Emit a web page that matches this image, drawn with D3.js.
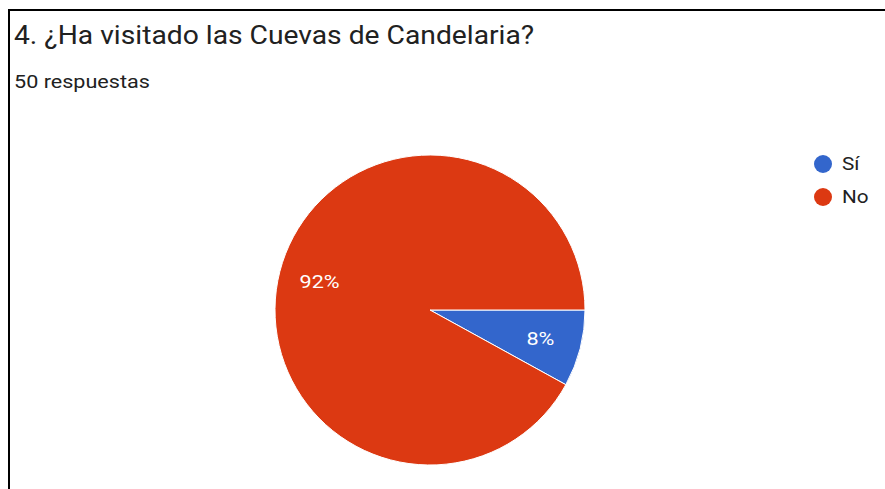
<!DOCTYPE html>
<html><head><meta charset="utf-8">
<script src="https://cdn.jsdelivr.net/npm/d3@7"></script>
<style>body{margin:0;background:#fff;} svg{display:block;font-family:Roboto,Arial,sans-serif;}</style>
</head><body>
<svg id="c" width="885" height="489"></svg>
<script>
const categories = ["Sí", "No"];
const values = [4, 46];
const colors = ["#3366cc", "#dc3912"];
const title = "4. ¿Ha visitado las Cuevas de Candelaria?";
const subtitle = "50 respuestas";

const svg = d3.select("#c");
// frame (top and left borders)
svg.append("line").attr("x1",9).attr("x2",885).attr("y1",10).attr("y2",10).attr("stroke","#000").attr("stroke-width",2);
svg.append("line").attr("x1",9).attr("x2",9).attr("y1",9).attr("y2",489).attr("stroke","#000").attr("stroke-width",2);

function stretched(parent, x, y, sx){
  return parent.append("g").attr("transform",`translate(${x},${y}) scale(${sx},1)`).append("text");
}
stretched(svg,14,44,1.13).attr("font-size",25).attr("fill","#212121").text(title);
stretched(svg,14,88,1.2).attr("font-size",18).attr("fill","#212121").text(subtitle);

const cx = 430, cy = 310, r = 155;
const total = d3.sum(values);
const pie = d3.pie().sort(null).startAngle(Math.PI/2).endAngle(Math.PI/2 + 2*Math.PI)(values);
const arc = d3.arc().innerRadius(0).outerRadius(r);
const labelArc = d3.arc().innerRadius(114).outerRadius(114);
const g = svg.append("g").attr("transform",`translate(${cx},${cy})`);
g.selectAll("path").data(pie).join("path")
  .attr("d", arc).attr("fill",(d,i)=>colors[i]).attr("stroke","#fff").attr("stroke-width",1);
g.selectAll("g.lbl").data(pie).join("g").attr("class","lbl")
  .attr("transform", d=>{const [x,y]=labelArc.centroid(d); return `translate(${x},${y}) scale(1.2,1)`;})
  .append("text")
  .attr("text-anchor","middle").attr("dy","0.35em")
  .attr("font-size",18).attr("fill","#fff")
  .text(d=>Math.round(d.value/total*100)+"%");

const lg = svg.append("g");
categories.forEach((c,i)=>{
  const y = 164 + i*33;
  lg.append("circle").attr("cx",823).attr("cy",y).attr("r",9).attr("fill",colors[i]);
  stretched(lg,842,y,1.15).attr("dy","0.35em").attr("font-size",18).attr("fill","#212121").text(c);
});
</script>
</body></html>
